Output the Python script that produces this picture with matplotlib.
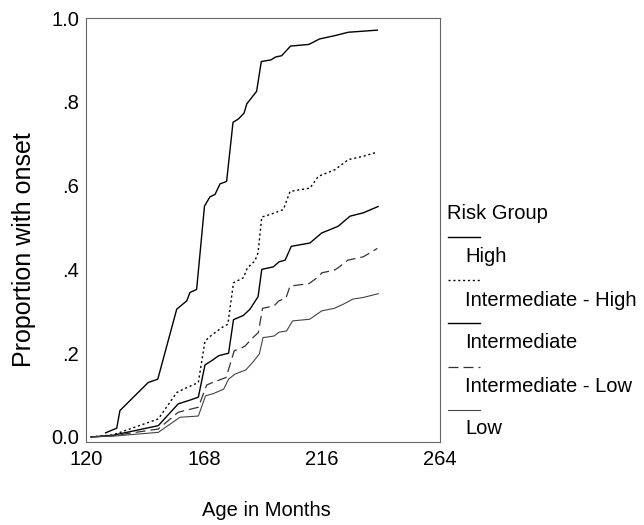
import matplotlib
matplotlib.use("Agg")
import matplotlib.pyplot as plt
from matplotlib.lines import Line2D

plt.rcParams['font.family'] = ['Liberation Sans', 'DejaVu Sans']

# ---- data (age in months, cumulative proportion) ----
high_age = [128, 132.5, 133.8, 145.3, 149.2, 156.9, 161, 162.3, 165, 168.2, 170.4, 172.5, 174.5, 177.2,
            179.8, 182, 184.3, 185.4, 189.4, 191.3, 195.2, 197.2, 199.6, 203.2, 210.7, 215, 221.3, 226.7, 238.5]
high_prop = [0.01, 0.021, 0.063, 0.13, 0.138, 0.305, 0.325, 0.345, 0.352, 0.551, 0.573, 0.579, 0.604, 0.61,
             0.751, 0.759, 0.773, 0.795, 0.825, 0.896, 0.9, 0.907, 0.91, 0.933, 0.937, 0.95, 0.958, 0.966, 0.971]

ihigh_age = [122, 131, 149.4, 156.9, 159.6, 165.7, 168.4, 171.1, 175.5, 177.7, 180, 182.7, 184, 185.7,
             188.7, 190, 191.5, 194.9, 200.3, 203, 211.1, 214.5, 221.3, 226.7, 232.8, 238.5]
ihigh_prop = [0.0, 0.005, 0.043, 0.106, 0.114, 0.13, 0.229, 0.243, 0.262, 0.269, 0.368, 0.376, 0.38, 0.404,
              0.42, 0.44, 0.525, 0.531, 0.543, 0.586, 0.594, 0.622, 0.638, 0.662, 0.67, 0.68]

inter_age = [122, 131, 149.4, 157.5, 162.3, 165.7, 168.4, 171.1, 174, 178, 180, 184, 186.7, 190,
             191.5, 196.2, 198.5, 201, 203.5, 211.1, 215.9, 219.3, 222.6, 227.4, 232.8, 238.8]
inter_prop = [0.0, 0.004, 0.027, 0.079, 0.088, 0.095, 0.172, 0.182, 0.194, 0.2, 0.28, 0.29, 0.305, 0.335,
              0.4, 0.406, 0.418, 0.422, 0.455, 0.463, 0.487, 0.495, 0.503, 0.527, 0.535, 0.55]

ilow_age = [122, 131, 149.4, 157.5, 165.7, 169.1, 171.5, 177, 180.3, 182.5, 184.7, 187.5, 190.1,
            191.8, 196.5, 198.5, 201.3, 203, 210.7, 214, 216, 221, 222.6, 226.5, 232.8, 238.5]
ilow_prop = [0.0, 0.003, 0.019, 0.059, 0.071, 0.124, 0.13, 0.142, 0.206, 0.21, 0.217, 0.235, 0.249,
             0.307, 0.313, 0.325, 0.331, 0.36, 0.366, 0.38, 0.392, 0.398, 0.404, 0.422, 0.43, 0.45]

low_age = [122, 131, 149.4, 158.2, 165.7, 168.6, 172, 176, 178, 180.6, 185, 187.8, 190.5, 192,
           196.5, 198.5, 201.6, 204, 211, 215.9, 221, 224.7, 228.5, 232.8, 238.9]
low_prop = [0.0, 0.002, 0.011, 0.047, 0.05, 0.098, 0.104, 0.114, 0.138, 0.15, 0.16, 0.178, 0.198, 0.237,
            0.241, 0.25, 0.253, 0.277, 0.281, 0.301, 0.307, 0.317, 0.329, 0.333, 0.342]

group_names = ['High', 'Intermediate - High', 'Intermediate', 'Intermediate - Low', 'Low']
x_ticks = [120, 168, 216, 264]
y_ticks = [0.0, 0.2, 0.4, 0.6, 0.8, 1.0]
y_tick_labels = ['0.0', '.2', '.4', '.6', '.8', '1.0']

W, H = 644, 525
FS = 14.5

def fx(px):
    return px / W

def fy(py):
    return 1 - py / H

fig = plt.figure(figsize=(W / 100, H / 100), dpi=100)
ax = fig.add_axes([fx(86), fy(442), fx(440) - fx(86), fy(18) - fy(442)])

series = [(high_age, high_prop), (ihigh_age, ihigh_prop), (inter_age, inter_prop),
          (ilow_age, ilow_prop), (low_age, low_prop)]
styles = [dict(color='black', lw=1.0, ls='-'),
          dict(color='black', lw=1.0, ls=(0, (1.5, 2.0))),
          dict(color='black', lw=1.0, ls='-'),
          dict(color='#333333', lw=0.9, ls=(0, (8, 4))),
          dict(color='#444444', lw=0.8, ls='-')]

for (a, p), st in zip(series, styles):
    ax.plot(a, p, **st)

ax.set_xlim(120, 264)
ax.set_ylim(-0.012, 1.0)
ax.set_xticks(x_ticks)
ax.set_xticklabels([str(t) for t in x_ticks])
ax.set_yticks(y_ticks)
ax.set_yticklabels(y_tick_labels)
ax.tick_params(length=0, labelsize=FS)
ax.tick_params(axis='x', pad=6)
ax.tick_params(axis='y', pad=5)
for s in ax.spines.values():
    s.set_linewidth(0.8)
    s.set_color('#666666')

fig.text(fx(266), fy(511), 'Age in Months', ha='center', va='center', fontsize=FS)
fig.text(fx(24), fy(250), 'Proportion with onset', ha='center', va='center',
         rotation=90, fontsize=18)

# legend: line sample on one row, label indented on the next
fig.text(fx(447), fy(214), 'Risk Group', ha='left', va='center', fontsize=FS)
line_rows = [237, 280, 323, 367, 410]
label_rows = [257, 300, 343, 387, 429]
for name, st, ly, ty in zip(group_names, styles, line_rows, label_rows):
    fig.add_artist(Line2D([fx(448), fx(480)], [fy(ly), fy(ly)], transform=fig.transFigure, **st))
    fig.text(fx(465), fy(ty), name, ha='left', va='center', fontsize=FS)

fig.savefig('out.png', dpi=100, facecolor='white')
